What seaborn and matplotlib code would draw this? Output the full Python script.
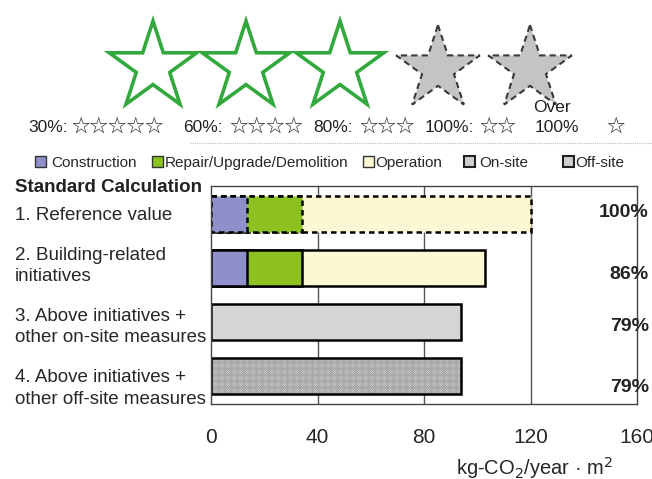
import numpy as np
import pandas as pd
import matplotlib
matplotlib.use("Agg")
import matplotlib.pyplot as plt
import matplotlib.transforms as mtransforms
from matplotlib.patches import Patch, Polygon
import seaborn as sns

# ---- data ----
categories = ["1. Reference value",
              "2. Building-related\ninitiatives",
              "3. Above initiatives +\nother on-site measures",
              "4. Above initiatives +\nother off-site measures"]
construction = [13.5, 13.5, 0, 0]
repair = [20.5, 20.5, 0, 0]
operation = [86.0, 69.0, 0, 0]
onsite = [0, 0, 94.0, 0]
offsite = [0, 0, 0, 94.0]
percent_labels = ["100%", "86%", "79%", "79%"]
x_ticks = [0, 40, 80, 120, 160]
legend_labels = ["Construction", "Repair/Upgrade/Demolition", "Operation", "On-site", "Off-site"]
rating_labels = ["30%:", "60%:", "80%:", "100%:", "100%"]
rating_stars = ["☆☆☆☆☆", "☆☆☆☆", "☆☆☆", "☆☆", "☆"]

C_CON = "#8f8fcb"
C_REP = "#8dc11f"
C_OPE = "#fbf8d3"
C_ON = "#d4d6d6"
C_OFF = "#e2e2e2"

sns.set_style("white")
plt.rcParams["font.family"] = ["Liberation Sans", "DejaVu Sans"]
plt.rcParams["hatch.linewidth"] = 0.6

df = pd.DataFrame({"category": categories, "construction": construction,
                   "repair": repair, "operation": operation,
                   "onsite": onsite, "offsite": offsite})
df["total"] = df[["construction", "repair", "operation", "onsite", "offsite"]].sum(axis=1)
df["con_rep"] = df["construction"] + df["repair"]

fig = plt.figure(figsize=(6.52, 4.79), dpi=100)
ax = fig.add_axes([211 / 652, 1 - 404 / 479, 426 / 652, 218 / 479])

bw = 0.67
lw = 1.8
total_colors = [C_OPE, C_OPE, C_ON, C_OFF]
sns.barplot(data=df, x="total", y="category", hue="category", order=categories,
            palette=total_colors, legend=False, orient="h", width=bw, saturation=1,
            edgecolor="black", linewidth=lw, ax=ax)
sub = df[df["con_rep"] > 0]
sns.barplot(data=sub, x="con_rep", y="category", order=categories, color=C_REP,
            orient="h", width=bw, saturation=1, edgecolor="black", linewidth=lw, ax=ax)
sub = df[df["construction"] > 0]
sns.barplot(data=sub, x="construction", y="category", order=categories, color=C_CON,
            orient="h", width=bw, saturation=1, edgecolor="black", linewidth=lw, ax=ax)

for p in list(ax.patches):
    yc = p.get_y() + p.get_height() / 2
    if abs(yc - 0) < 0.1:
        p.set_linestyle((0, (2.2, 1.6)))
    if abs(yc - 3) < 0.1:
        p.set_hatch("x" * 14)
        p.set_edgecolor("#a8a8a8")
        p.set_linewidth(0)

# outline for hatched off-site bar
sub = df[df["offsite"] > 0]
sns.barplot(data=sub, x="total", y="category", order=categories, color="black",
            fill=False, orient="h", width=bw, linewidth=lw, ax=ax)

ax.set_xlim(0, 160)
ax.set_ylim(3.52, -0.52)
ax.set_xticks(x_ticks)
ax.set_xticklabels([str(t) for t in x_ticks], fontsize=15)
ax.tick_params(axis="x", length=0, pad=17)
ax.tick_params(axis="y", length=0, pad=141)
ax.set_yticks(range(len(categories)))
ax.set_yticklabels(categories, fontsize=13.5, ha="left")
label_shift_px = [1, -2, 5, 13]
for t, dy in zip(ax.get_yticklabels(), label_shift_px):
    t.set_verticalalignment("center")
    t.set_linespacing(1.38)
    t.set_transform(t.get_transform() +
                    mtransforms.ScaledTranslation(0, -dy / 100, fig.dpi_scale_trans))
ax.set_ylabel("")
ax.set_xlabel("kg-CO$_2$/year · m$^2$", fontsize=14.5)
ax.xaxis.set_label_coords(0.76, -0.235)
ax.xaxis.label.set_verticalalignment("top")
for x in x_ticks[1:-1]:
    ax.axvline(x, color="#555555", lw=1.0, zorder=0)
for s in ax.spines.values():
    s.set_color("#444444")
    s.set_linewidth(1.0)
    s.set_visible(True)

trans = mtransforms.blended_transform_factory(ax.transAxes, ax.transData)
pct_shift_px = [-1.5, 6.5, 4.5, 11.5]
for i, (lab, dy) in enumerate(zip(percent_labels, pct_shift_px)):
    ax.text(1.0 + 12 / 426, i, lab, ha="right", va="center",
            transform=trans + mtransforms.ScaledTranslation(0, -dy / 100, fig.dpi_scale_trans),
            fontsize=14, fontweight="bold", color="#222222", clip_on=False)

fig.text(15 / 652, 1 - 188 / 479, "Standard Calculation", fontsize=13.5,
         fontweight="bold", ha="left", va="center", color="#222222")

# legend (one entry each, placed like the original)
handles = [Patch(facecolor=C_CON, edgecolor="#333333"),
           Patch(facecolor=C_REP, edgecolor="#333333"),
           Patch(facecolor=C_OPE, edgecolor="#333333"),
           Patch(facecolor="#cfcfcf", edgecolor="#222222", linewidth=1.5),
           Patch(facecolor="#cfcfcf", edgecolor="#222222", linewidth=1.5)]
legend_x = [35, 152, 363, 464, 563]
legend_pad = [0.35, 0.1, 0.1, 0.3, 0.1]
for h, lab, lx, pad in zip(handles, legend_labels, legend_x, legend_pad):
    leg = fig.legend([h], [lab], loc="center left",
                     bbox_to_anchor=(lx / 652, 1 - 163 / 479), frameon=False,
                     fontsize=11, handlelength=0.72, handleheight=0.72,
                     handletextpad=pad, borderaxespad=0, borderpad=0)

# star rating banner (decorative)
bax = fig.add_axes([0, 0, 1, 1], zorder=-1)
bax.set_xlim(0, 652)
bax.set_ylim(479, 0)
bax.axis("off")

def star(cx, cy, r):
    ang = np.deg2rad(-90 + 36 * np.arange(10))
    rad = np.where(np.arange(10) % 2 == 0, r, r * 0.382)
    return np.column_stack([cx + rad * np.cos(ang), cy + rad * np.sin(ang)])

for cx in [153, 246, 340]:
    bax.add_patch(Polygon(star(cx, 67, 46), closed=True, facecolor="white",
                          edgecolor="#33a83d", lw=2.6, joinstyle="miter"))
for cx in [438, 530]:
    bax.add_patch(Polygon(star(cx, 69, 44), closed=True, facecolor="#c4c4c4",
                          edgecolor="#3a3a3a", lw=1.5, linestyle=(0, (3, 2))))

label_x = [28, 183, 313, 425, 535]
stars_x = [71, 229, 359, 479, 606]
for x, t in zip(label_x, rating_labels):
    fig.text(x / 652, 1 - 127 / 479, t, fontsize=12.5, ha="left", va="center",
             color="#222222")
for x, t in zip(stars_x, rating_stars):
    fig.text(x / 652, 1 - 127 / 479, t, fontsize=13.3, ha="left", va="center",
             color="#333333", family=["Noto Sans CJK JP", "DejaVu Sans"])
fig.text(533 / 652, 1 - 107 / 479, "Over", fontsize=12.5, ha="left", va="center",
         color="#222222")
bax.plot([190, 652], [143, 143], color="#bbbbbb", lw=0.8, linestyle=(0, (1, 1)))

fig.savefig("out.png", dpi=100)
